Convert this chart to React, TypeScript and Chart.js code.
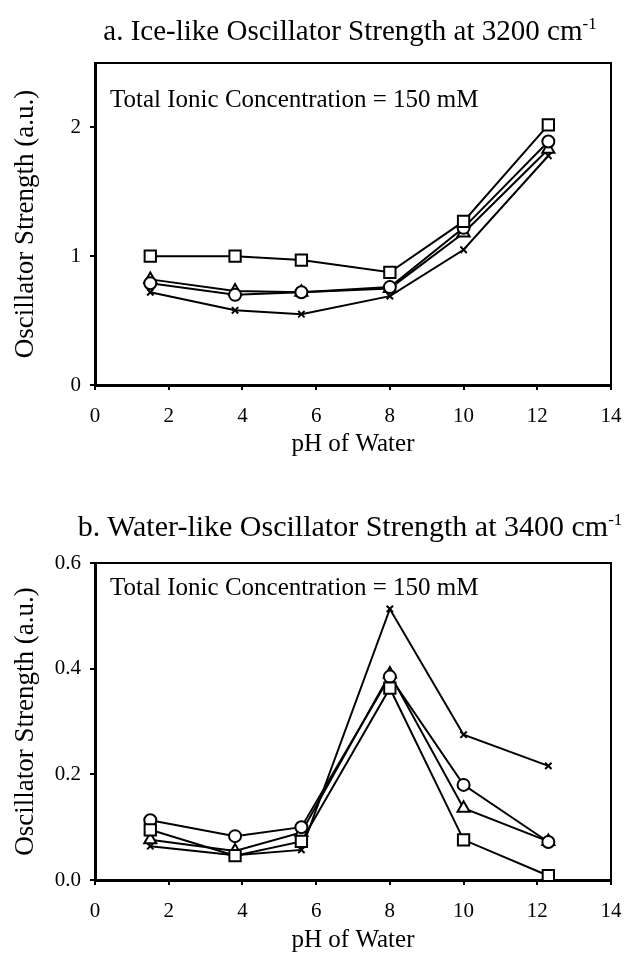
import React, { useEffect, useRef } from 'react';
import { Chart, registerables } from 'chart.js';
Chart.register(...registerables);

// ---- data ----
const PH = [1.5, 3.8, 5.6, 8, 10, 12.3];

const ICE_SQUARE = [1.0, 1.0, 0.97, 0.875, 1.27, 2.02];
const ICE_CIRCLE = [0.79, 0.7, 0.72, 0.76, 1.22, 1.89];
const ICE_TRIANGLE = [0.82, 0.73, 0.72, 0.75, 1.18, 1.83];
const ICE_CROSS = [0.72, 0.58, 0.55, 0.69, 1.05, 1.78];

const WATER_SQUARE = [0.095, 0.046, 0.073, 0.363, 0.076, 0.008];
const WATER_CIRCLE = [0.113, 0.083, 0.1, 0.385, 0.18, 0.072];
const WATER_TRIANGLE = [0.076, 0.055, 0.09, 0.39, 0.136, 0.073];
const WATER_CROSS = [0.064, 0.047, 0.057, 0.513, 0.275, 0.216];

const X_TICKS = [0, 2, 4, 6, 8, 10, 12, 14];
const Y_TICKS_A = [0, 1, 2];
const Y_TICKS_B = [0, 0.2, 0.4, 0.6];

const TITLE_A = 'a. Ice-like Oscillator Strength at 3200 cm';
const TITLE_B = 'b. Water-like Oscillator Strength at 3400 cm';
const TITLE_SUP = '-1';
const NOTE = 'Total Ionic Concentration = 150 mM';
const X_TITLE = 'pH of Water';
const Y_TITLE = 'Oscillator Strength (a.u.)';

const SERIF = '"Liberation Serif", "Times New Roman", serif';

type Cfg = {
  series: number[][];
  yMax: number;
  yTicks: number[];
  decimals: number;
  padTop: number;
  xScaleHeight: number;
  xTitlePad: number;
  xTickPad: number;
  noteOffset: number;
};

const MARKERS = [
  { pointStyle: 'rect', pointRadius: 8 },
  { pointStyle: 'circle', pointRadius: 6 },
  { pointStyle: 'triangle', pointRadius: 7 },
  { pointStyle: 'crossRot', pointRadius: 4.5 },
];

const framePlugin = {
  id: 'frameNote',
  beforeDatasetsDraw(chart: any, _a: any, opts: any) {
    const { ctx, chartArea } = chart;
    const { left, top, right, bottom } = chartArea;
    ctx.save();
    ctx.strokeStyle = '#000';
    ctx.lineWidth = 2;
    ctx.strokeRect(left, top, right - left, bottom - top);
    ctx.fillStyle = '#000';
    ctx.font = '25px ' + SERIF;
    ctx.textBaseline = 'alphabetic';
    ctx.textAlign = 'left';
    ctx.fillText(opts.text, left + 15, top + opts.offset);
    ctx.restore();
  },
};

function Panel({ cfg }: { cfg: Cfg }) {
  const ref = useRef<HTMLCanvasElement | null>(null);
  useEffect(() => {
    if (!ref.current) return;
    const datasets = cfg.series.map((vals, i) => ({
      data: PH.map((x, j) => ({ x, y: vals[j] })),
      borderColor: '#000',
      borderWidth: 2,
      pointBorderColor: '#000',
      pointBackgroundColor: '#fff',
      pointBorderWidth: 2,
      showLine: true,
      tension: 0,
      ...MARKERS[i],
    }));
    const chart = new Chart(ref.current, {
      type: 'scatter',
      data: { datasets: datasets as any },
      plugins: [framePlugin as any],
      options: {
        animation: false,
        responsive: false,
        devicePixelRatio: 1,
        layout: { padding: { top: cfg.padTop, right: 33, left: 0, bottom: 0 } },
        plugins: {
          legend: { display: false },
          tooltip: { enabled: false },
          frameNote: { text: NOTE, offset: cfg.noteOffset },
        } as any,
        scales: {
          x: {
            type: 'linear',
            min: 0,
            max: 14,
            afterBuildTicks: (s: any) => {
              s.ticks = X_TICKS.map((v) => ({ value: v }));
            },
            afterFit: (s: any) => {
              s.height = cfg.xScaleHeight;
            },
            grid: { drawOnChartArea: false, drawTicks: true, tickLength: 5, color: '#000', lineWidth: 2 },
            border: { color: '#000', width: 3 },
            ticks: {
              color: '#000',
              font: { family: SERIF, size: 21 },
              padding: cfg.xTickPad,
              maxRotation: 0,
              callback: (v: any) => String(v),
            },
            title: {
              display: true,
              text: X_TITLE,
              color: '#000',
              font: { family: SERIF, size: 25 },
              padding: { top: 0, bottom: cfg.xTitlePad },
            },
          },
          y: {
            type: 'linear',
            min: 0,
            max: cfg.yMax,
            afterBuildTicks: (s: any) => {
              s.ticks = cfg.yTicks.map((v) => ({ value: v }));
            },
            afterFit: (s: any) => {
              s.width = 95;
            },
            grid: { drawOnChartArea: false, drawTicks: true, tickLength: 5, color: '#000', lineWidth: 2 },
            border: { color: '#000', width: 3 },
            ticks: {
              color: '#000',
              font: { family: SERIF, size: 21 },
              padding: 9,
              callback: (v: any) => Number(v).toFixed(cfg.decimals),
            },
            title: {
              display: true,
              text: Y_TITLE,
              color: '#000',
              font: { family: SERIF, size: 27 },
              padding: { top: 10, bottom: 0 },
            },
          },
        },
      },
    });
    return () => chart.destroy();
  }, [cfg]);
  return <canvas ref={ref} width={644} height={481} style={{ display: 'block', width: 644, height: 481 }} />;
}

const CFG_A: Cfg = {
  series: [ICE_SQUARE, ICE_CIRCLE, ICE_TRIANGLE, ICE_CROSS],
  yMax: 2.5,
  yTicks: Y_TICKS_A,
  decimals: 0,
  padTop: 63,
  xScaleHeight: 96,
  xTitlePad: 22,
  xTickPad: 14,
  noteOffset: 44,
};

const CFG_B: Cfg = {
  series: [WATER_SQUARE, WATER_CIRCLE, WATER_TRIANGLE, WATER_CROSS],
  yMax: 0.6,
  yTicks: Y_TICKS_B,
  decimals: 1,
  padTop: 83,
  xScaleHeight: 81,
  xTitlePad: 6,
  xTickPad: 14,
  noteOffset: 32,
};

const titleStyle = (top: number, size: number): React.CSSProperties => ({
  position: 'absolute',
  top,
  left: 0,
  width: 700,
  textAlign: 'center',
  fontFamily: SERIF,
  fontSize: size,
  lineHeight: size + 'px',
  color: '#000',
  whiteSpace: 'nowrap',
});

const supStyle: React.CSSProperties = { fontSize: 17, position: 'relative', top: -11 };

export default function App() {
  return (
    <div style={{ position: 'absolute', left: 0, top: 0, width: 644, height: 961, background: '#fff', overflow: 'hidden' }}>
      <div style={{ position: 'absolute', left: 0, top: 0 }}>
        <Panel cfg={CFG_A} />
      </div>
      <div style={{ position: 'absolute', left: 0, top: 480 }}>
        <Panel cfg={CFG_B} />
      </div>
      <div style={titleStyle(16, 29)}>
        {TITLE_A}
        <span style={supStyle}>{TITLE_SUP}</span>
      </div>
      <div style={titleStyle(511, 30)}>
        {TITLE_B}
        <span style={supStyle}>{TITLE_SUP}</span>
      </div>
    </div>
  );
}
